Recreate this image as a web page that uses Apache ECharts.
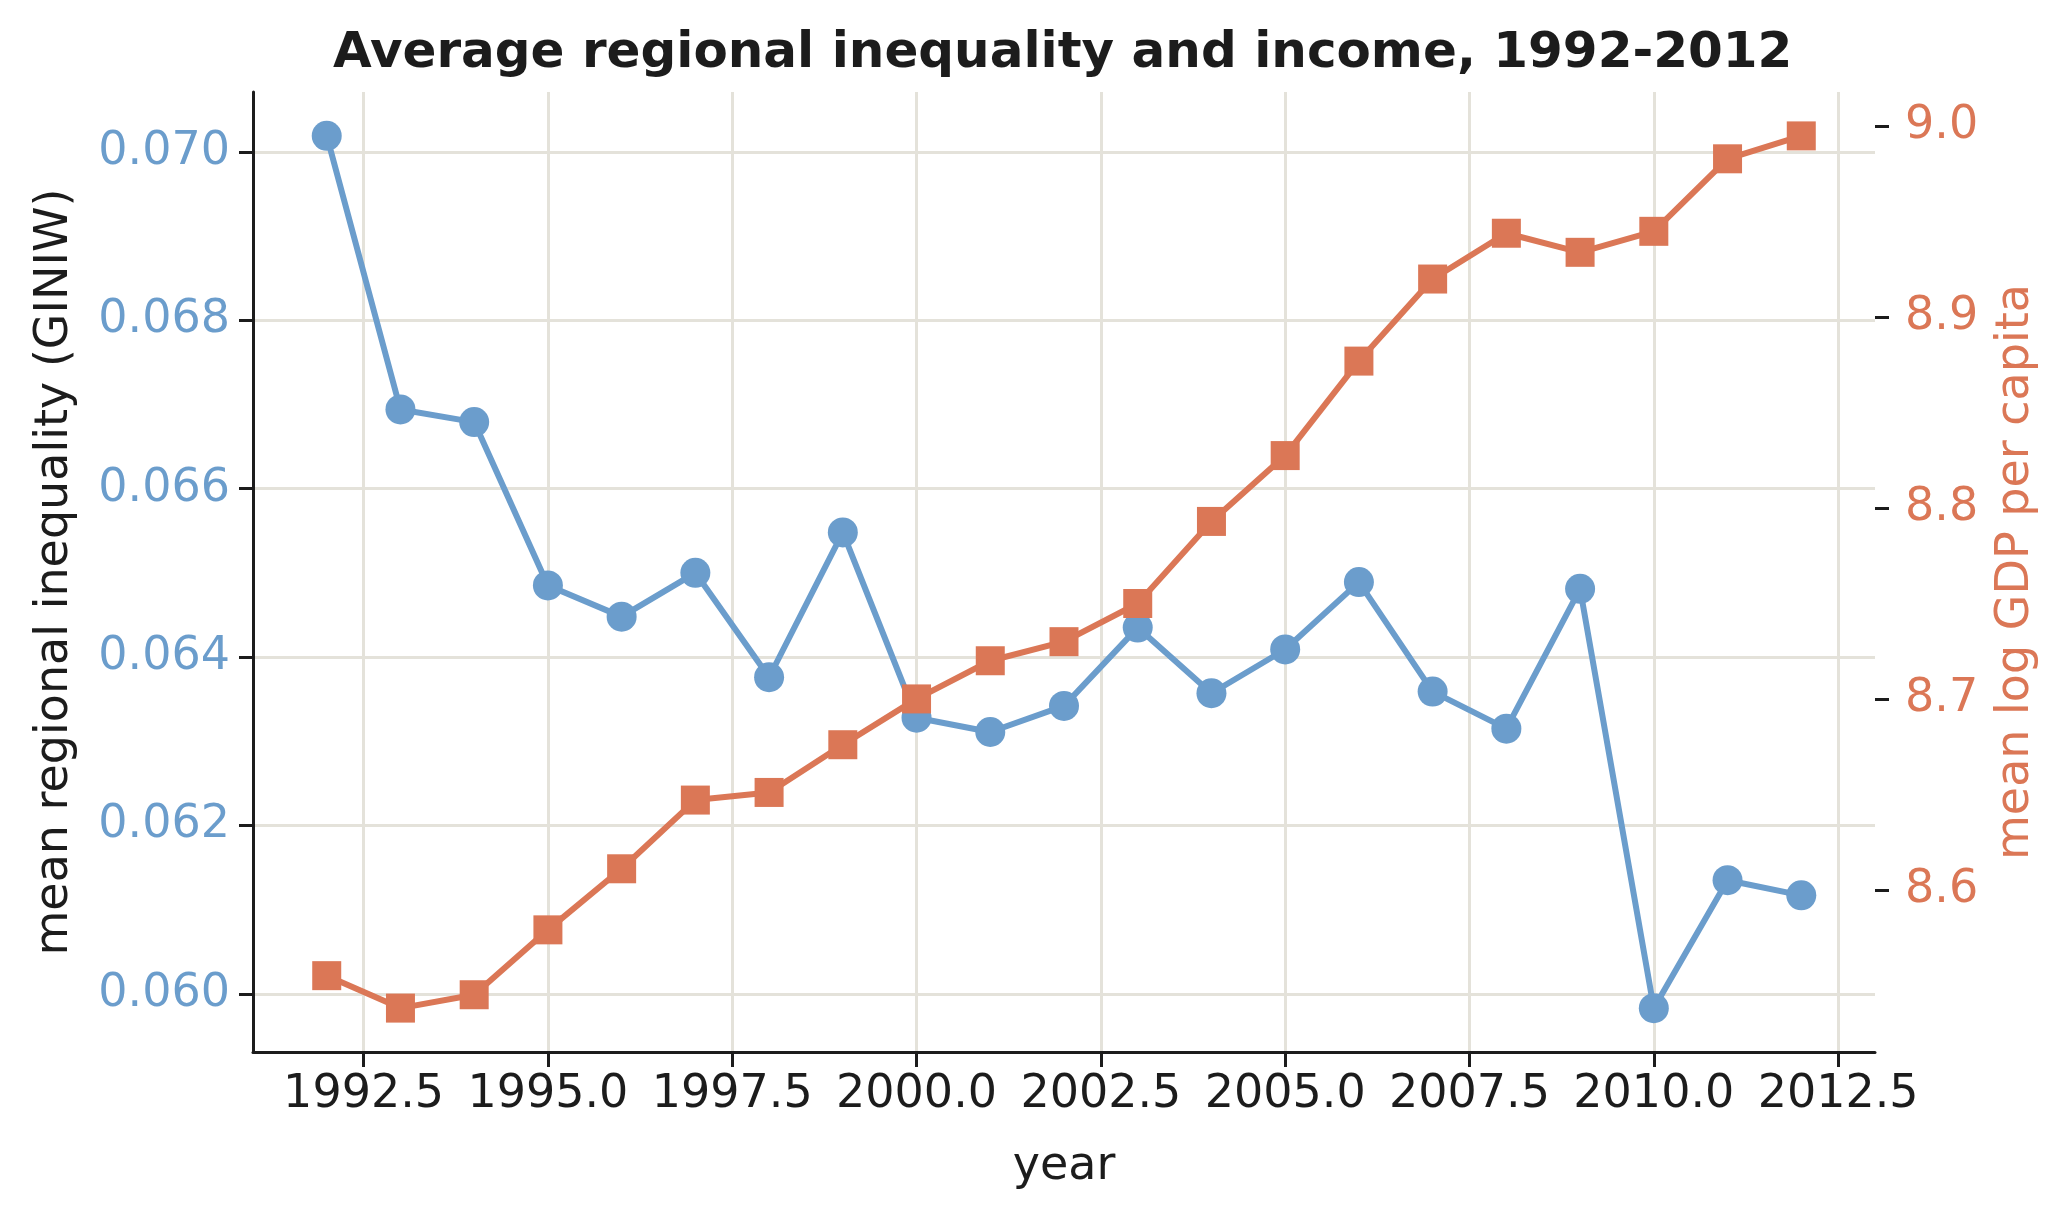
<!DOCTYPE html>
<html>
<head>
<meta charset="utf-8">
<script src="https://cdn.jsdelivr.net/npm/echarts@6/dist/echarts.min.js"></script>
<style>
  html, body { margin: 0; padding: 0; background: #fff; }
  #chart { width: 2070px; height: 1221px; }
</style>
</head>
<body>
<div id="chart"></div>
<script>
var years = [1992, 1993, 1994, 1995, 1996, 1997, 1998, 1999, 2000, 2001, 2002,
  2003, 2004, 2005, 2006, 2007, 2008, 2009, 2010, 2011, 2012];
var giniw = [0.07019, 0.06694, 0.06679, 0.06485, 0.06448, 0.06500, 0.06376, 0.06548,
  0.06328, 0.06311, 0.06342, 0.06435, 0.06357, 0.06409, 0.06489, 0.06359, 0.06315,
  0.06481, 0.05983, 0.06135, 0.06117];
var logGdp = [8.555, 8.538, 8.545, 8.579, 8.611, 8.647, 8.651, 8.676, 8.700, 8.720,
  8.730, 8.750, 8.793, 8.8275, 8.877, 8.920, 8.944, 8.934, 8.945, 8.983, 8.995];
var xTicks = [1992.5, 1995, 1997.5, 2000, 2002.5, 2005, 2007.5, 2010, 2012.5];
var leftTicks = [0.060, 0.062, 0.064, 0.066, 0.068, 0.070];
var rightTicks = [8.6, 8.7, 8.8, 8.9, 9.0];

var blue = '#6b9dcc';
var orange = '#db7756';
var ink = '#1c1c1c';
var gridColor = '#e4e2da';
var font = 'DejaVu Sans';

function pairs(xs, ys) {
  return xs.map(function(x, i) { return [x, ys[i]]; });
}

var chart = echarts.init(document.getElementById('chart'), null, { renderer: 'canvas' });
chart.setOption({
  animation: false,
  backgroundColor: '#fff',
  textStyle: { fontFamily: font },
  title: {
    text: 'Average regional inequality and income, 1992-2012',
    left: 328,
    top: 24,
    textStyle: { fontFamily: font, fontSize: 50, fontWeight: 'bold', color: ink }
  },
  grid: { left: 253, right: 195, top: 92, bottom: 169 },
  xAxis: {
    type: 'value',
    min: 1991,
    max: 2013,
    name: 'year',
    nameLocation: 'middle',
    nameGap: 92,
    nameTextStyle: { fontFamily: font, fontSize: 46, color: ink },
    axisLine: { show: true, onZero: false, lineStyle: { color: ink, width: 3 } },
    axisTick: { show: true, length: 15, lineStyle: { color: ink, width: 3 }, customValues: xTicks },
    axisLabel: {
      fontFamily: font, fontSize: 46, color: ink, margin: 20,
      customValues: xTicks,
      formatter: function(v) { return v.toFixed(1); }
    },
    splitLine: { show: true, lineStyle: { color: gridColor, width: 3 } }
  },
  yAxis: [{
    type: 'value',
    position: 'left',
    min: 0.05931,
    max: 0.07071,
    name: 'mean regional inequality (GINIW)',
    nameLocation: 'middle',
    nameRotate: 90,
    nameGap: 175,
    nameTextStyle: { fontFamily: font, fontSize: 46, color: ink },
    axisLine: { show: true, lineStyle: { color: ink, width: 3 } },
    axisTick: { show: true, length: 14, lineStyle: { color: ink, width: 3 }, customValues: leftTicks },
    axisLabel: {
      fontFamily: font, fontSize: 46, color: blue, margin: 23,
      customValues: leftTicks,
      formatter: function(v) { return v.toFixed(3); }
    },
    splitLine: { show: true, lineStyle: { color: gridColor, width: 3 } }
  }, {
    type: 'value',
    position: 'right',
    min: 8.515,
    max: 9.018,
    name: 'mean log GDP per capita',
    nameLocation: 'middle',
    nameRotate: 90,
    nameGap: 118,
    nameTextStyle: { fontFamily: font, fontSize: 46, color: orange },
    axisLine: { show: false },
    axisTick: { show: true, length: 14, lineStyle: { color: ink, width: 3 }, customValues: rightTicks },
    axisLabel: {
      fontFamily: font, fontSize: 46, color: orange, margin: 30,
      customValues: rightTicks,
      formatter: function(v) { return v.toFixed(1); }
    },
    splitLine: { show: false }
  }],
  series: [{
    name: 'GINIW',
    type: 'line',
    yAxisIndex: 0,
    data: pairs(years, giniw),
    symbol: 'circle',
    symbolSize: 30,
    showAllSymbol: true,
    lineStyle: { color: blue, width: 6 },
    itemStyle: { color: blue }
  }, {
    name: 'log GDP',
    type: 'line',
    yAxisIndex: 1,
    data: pairs(years, logGdp),
    symbol: 'rect',
    symbolSize: 29,
    showAllSymbol: true,
    lineStyle: { color: orange, width: 6 },
    itemStyle: { color: orange }
  }]
});
window.addEventListener('resize', function() { chart.resize(); });
</script>
</body>
</html>
